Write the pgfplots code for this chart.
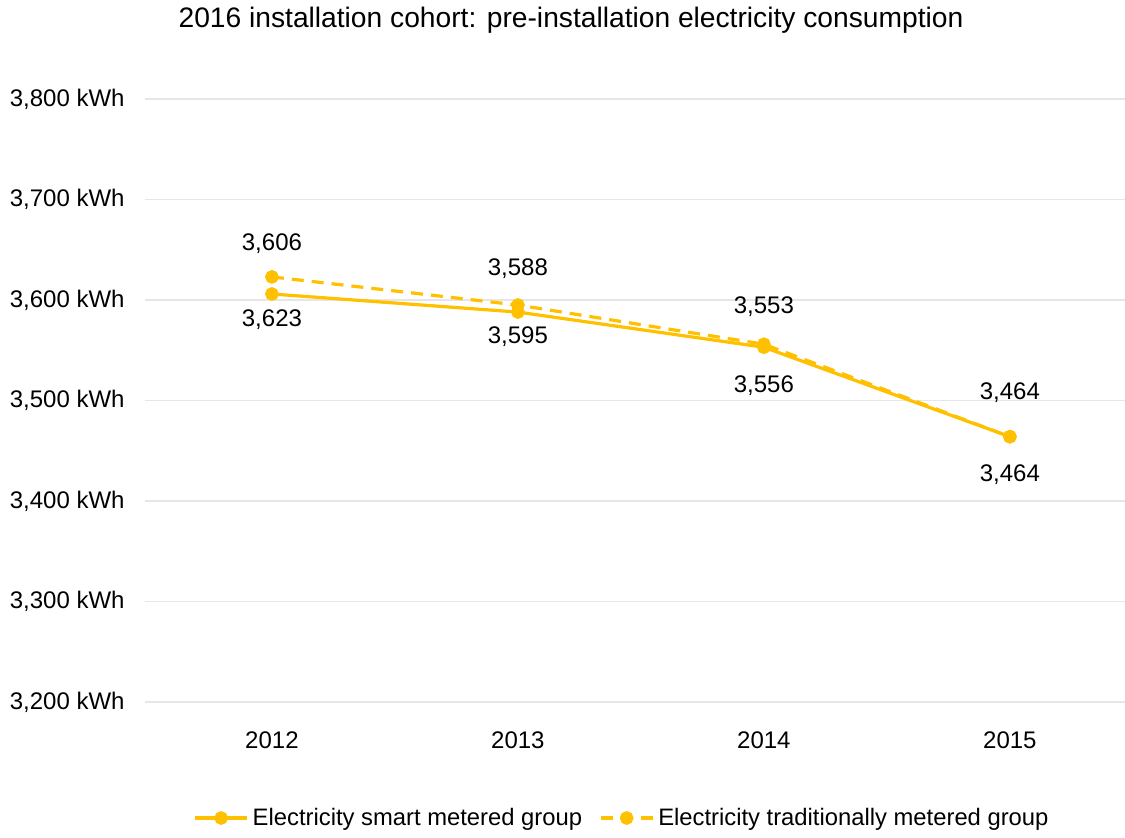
\documentclass[border=0pt]{standalone}
\usepackage{pgfplots}
\pgfplotsset{compat=1.18}
\usepackage{fontspec}
\setmainfont{Liberation Sans}
\definecolor{gold}{HTML}{FFC000}
\definecolor{gridc}{HTML}{E6E6E6}

\begin{document}
\begin{tikzpicture}
\useasboundingbox (-72.5pt,-67.5pt) rectangle (490pt,351pt);
\begin{axis}[
  at={(0,0)}, anchor=south west,
  scale only axis,
  width=490pt, height=301.5pt,
  xmin=-0.516, xmax=3.468,
  ymin=3200, ymax=3800,
  xtick={0,1,2,3},
  xticklabels={2012,2013,2014,2015},
  ytick={3200,3300,3400,3500,3600,3700,3800},
  /pgf/number format/assume math mode=true,
  /pgf/number format/1000 sep={,},
  yticklabel={\pgfmathprintnumber[fixed,precision=0,1000 sep={,}]{\tick}~kWh},
  ymajorgrids,
  major grid style={draw=gridc, line width=0.8pt},
  axis line style={draw=none},
  major tick length=0pt,
  tick label style={font=\fontsize{12}{14}\selectfont, text=black},
  yticklabel style={anchor=east, inner sep=0pt, xshift=-10pt},
  xticklabel style={anchor=north, inner sep=0pt, yshift=-14.5pt},
  clip=false,
  legend style={at={(0.4878,-0.1924)}, anchor=center, draw=none, fill=none,
    font=\fontsize{11.9}{14}\selectfont, legend columns=-1,
    /tikz/every even column/.append style={column sep=6.5pt}},
  legend image code/.code={
    \draw[mark repeat=2, mark phase=2] plot coordinates {(0pt,0pt) (13pt,0pt) (26pt,0pt)};
  },
  visualization depends on={\thisrow{shift}\as\myshift},
  nodes near coords={\pgfmathprintnumber[fixed,precision=0,1000 sep={,}]{\pgfplotspointmeta}},
  every node near coord/.append style={anchor=center, yshift=\myshift pt,
    font=\fontsize{12}{14}\selectfont, text=black, inner sep=0pt},
]
\addplot[color=gold, line width=1.6pt, mark=*, mark size=2.6pt,
  mark options={solid, fill=gold, draw=gold}]
  table[x=x, y=y] {
  x y shift
  0 3606 25
  1 3588 21.5
  2 3553 20.5
  3 3464 22
};
\addlegendentry{Electricity smart metered group}
\addplot[color=gold, line width=1.6pt, dash pattern=on 6pt off 4pt, mark=*, mark size=2.6pt,
  mark options={solid, fill=gold, draw=gold}]
  table[x=x, y=y] {
  x y shift
  0 3623 -21.5
  1 3595 -16
  2 3556 -20.5
  3 3464 -19
};
\addlegendentry{Electricity traditionally metered group}
\end{axis}
\node[font=\fontsize{14.1}{17}\selectfont, text=black] at (213pt,341pt)
  {2016 installation cohort: pre-installation electricity consumption};
\end{tikzpicture}
\end{document}
